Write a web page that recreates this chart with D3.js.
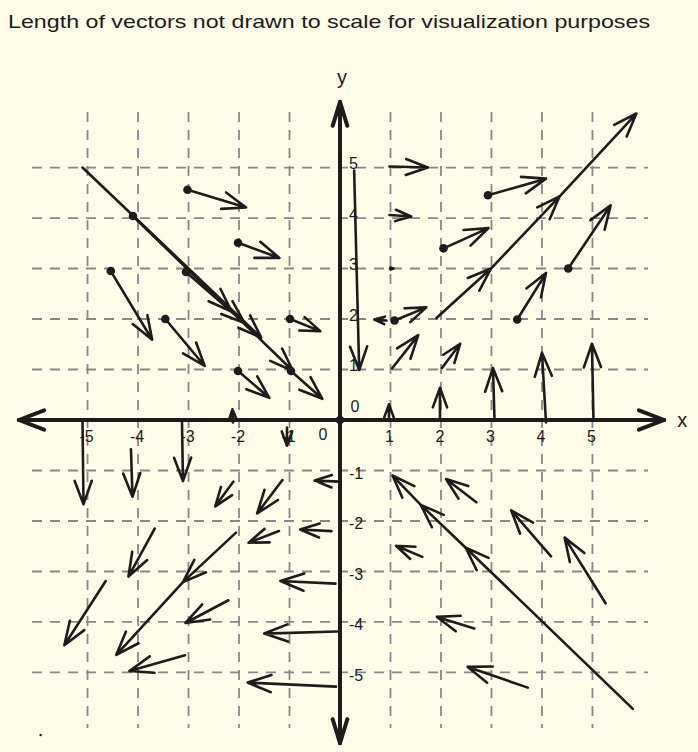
<!DOCTYPE html>
<html>
<head>
<meta charset="utf-8">
<script src="https://cdn.jsdelivr.net/npm/d3@7"></script>
<style>
  html, body { margin: 0; padding: 0; background: #fffde9; }
  svg { display: block; }
  text { font-family: "Liberation Sans", "DejaVu Sans", sans-serif; fill: #1c1c1c; }
</style>
</head>
<body>
<svg id="chart" width="698" height="752"></svg>
<script>
// ---------------- data ----------------
const titleText = "Length of vectors not drawn to scale for visualization purposes";
const xTicks = [-5, -4, -3, -2, -1, 1, 2, 3, 4, 5];
const yTicks = [-5, -4, -3, -2, -1, 1, 2, 3, 4, 5];
const xTickLabels = ["-5", "-4", "-3", "-2", "-1", "1", "2", "3", "4", "5"];
const yTickLabels = ["-5", "-4", "-3", "-2", "-1", "1", "2", "3", "4", "5"];
const zeroLabel = "0";
const xAxisLabel = "x";
const yAxisLabel = "y";
const gridExtent = [-6.1, 6.1];
const xAxisExtent = [-6.36, 6.42];
const yAxisExtent = [-6.4, 6.3];

// vectors: [x0, y0, x1, y1]
const upperLeftVectors = [
  [-5.1, 5.0, -1.56, 1.63],
  [-4.1, 4.04, -0.93, 0.97],
  [-4.1, 4.04, -2.15, 2.15],
  [-3.05, 2.93, -1.89, 1.92],
  [-0.97, 0.97, -0.35, 0.42],
  [-3.02, 4.56, -1.86, 4.21],
  [-2.02, 3.51, -1.2, 3.21],
  [-4.54, 2.95, -3.72, 1.59],
  [-3.46, 2.0, -2.68, 1.07],
  [-2.02, 0.97, -1.4, 0.44],
  [-0.99, 2.0, -0.39, 1.76],
  [0.28, 4.94, 0.38, 0.99]
];
const upperRightVectors = [
  [0.98, 5.02, 1.74, 5.0],
  [0.98, 4.06, 1.41, 4.03],
  [0.99, 3.0, 1.06, 3.0],
  [0.92, 1.97, 0.68, 1.99],
  [1.08, 1.97, 1.71, 2.23],
  [1.03, 1.02, 1.55, 1.68],
  [2.02, 1.03, 2.38, 1.51],
  [1.91, 2.02, 2.99, 3.0],
  [2.99, 3.0, 4.35, 4.43],
  [4.35, 4.43, 5.87, 6.07],
  [2.93, 4.45, 4.08, 4.78],
  [2.05, 3.4, 2.94, 3.8],
  [4.52, 3.0, 5.36, 4.25],
  [3.51, 1.99, 4.08, 2.91]
];
const axisVectors = [
  [0.97, 0.0, 0.97, 0.31],
  [1.98, 0.0, 1.98, 0.64],
  [3.06, 0.0, 3.03, 1.03],
  [4.08, -0.05, 4.0, 1.33],
  [5.02, 0.0, 4.99, 1.51],
  [-2.12, -0.05, -2.13, 0.21],
  [-5.1, 0.0, -5.08, -1.67],
  [-4.14, -0.58, -4.11, -1.52],
  [-3.13, 0.0, -3.11, -1.21],
  [-1.05, -0.15, -1.05, -0.51]
];
const lowerLeftVectors = [
  [0.0, -1.22, -0.5, -1.2],
  [-0.17, -2.2, -0.79, -2.17],
  [-0.09, -3.24, -1.18, -3.19],
  [-0.06, -4.19, -1.5, -4.23],
  [-0.08, -5.28, -1.83, -5.2],
  [-1.14, -1.19, -1.64, -1.85],
  [-2.11, -1.22, -2.47, -1.71],
  [-1.21, -2.2, -1.81, -2.43],
  [-2.06, -2.23, -3.11, -3.21],
  [-3.11, -3.21, -4.43, -4.65],
  [-3.67, -2.15, -4.19, -3.1],
  [-4.64, -3.19, -5.46, -4.46],
  [-2.21, -3.57, -3.06, -4.02],
  [-3.07, -4.66, -4.17, -4.97]
];
const lowerRightVectors = [
  [5.8, -5.72, 2.49, -2.53],
  [2.49, -2.53, 1.6, -1.68],
  [1.6, -1.68, 1.04, -1.1],
  [2.7, -1.63, 2.1, -1.17],
  [1.63, -2.71, 1.11, -2.49],
  [4.18, -2.7, 3.39, -1.79],
  [5.26, -3.63, 4.45, -2.33],
  [2.66, -4.13, 1.92, -3.9],
  [3.72, -5.3, 2.53, -4.89]
];
// tail dots: [x, y]
const tailDots = [
  [-3.02, 4.56], [-2.02, 3.51], [-4.1, 4.04], [-3.05, 2.93], [-4.54, 2.95],
  [-3.46, 2.0], [-0.99, 2.0], [-2.02, 0.97], [-0.97, 0.97],
  [1.08, 1.97], [2.93, 4.45], [2.05, 3.4], [4.52, 3.0], [3.51, 1.99],
  [0, 0]
];
const strayDots = [[-5.93, -6.24]];

// ---------------- drawing ----------------
const W = 698, H = 752;
const svg = d3.select("#chart");
svg.append("rect").attr("width", W).attr("height", H).attr("fill", "#fffde9");

const x = d3.scaleLinear().domain(gridExtent).range([32, 648]);
const y = d3.scaleLinear().domain([gridExtent[1], gridExtent[0]]).range([112, 728]);
const ink = "#1c1c1c";

// title
svg.append("text")
  .attr("x", 8).attr("y", 28)
  .attr("font-size", 19)
  .attr("textLength", 642).attr("lengthAdjust", "spacingAndGlyphs")
  .text(titleText);

// grid
const grid = svg.append("g")
  .attr("stroke", "#888888").attr("stroke-width", 1.8)
  .attr("stroke-dasharray", "10,8").attr("fill", "none");
grid.selectAll("line.v").data(xTicks).join("line")
  .attr("class", "v")
  .attr("x1", d => x(d)).attr("x2", d => x(d))
  .attr("y1", y(gridExtent[1])).attr("y2", y(gridExtent[0]));
grid.selectAll("line.h").data(yTicks).join("line")
  .attr("class", "h")
  .attr("y1", d => y(d)).attr("y2", d => y(d))
  .attr("x1", x(gridExtent[0])).attr("x2", x(gridExtent[1]));

// arrow helper
function arrow(g, x0, y0, x1, y1, width, head, half) {
  const dx = x1 - x0, dy = y1 - y0;
  const len = Math.hypot(dx, dy);
  const ang = Math.atan2(dy, dx);
  const h = head != null ? head : Math.min(25, 8 + 0.4 * len, len * 0.9);
  const a = half != null ? half : 20 * Math.PI / 180;
  const p1 = [x1 - h * Math.cos(ang - a), y1 - h * Math.sin(ang - a)];
  const p2 = [x1 - h * Math.cos(ang + a), y1 - h * Math.sin(ang + a)];
  g.append("path")
    .attr("d", `M${x0},${y0}L${x1},${y1}M${p1[0]},${p1[1]}L${x1},${y1}L${p2[0]},${p2[1]}`)
    .attr("fill", "none").attr("stroke", ink)
    .attr("stroke-width", width)
    .attr("stroke-linecap", "round").attr("stroke-linejoin", "round");
}

// axes
const axes = svg.append("g");
arrow(axes, x(xAxisExtent[1]), y(0), x(xAxisExtent[0]), y(0), 4, 27, 21 * Math.PI / 180);
arrow(axes, x(xAxisExtent[0]), y(0), x(xAxisExtent[1]), y(0), 4, 27, 21 * Math.PI / 180);
arrow(axes, x(0), y(yAxisExtent[0]), x(0), y(yAxisExtent[1]), 4, 25, 17 * Math.PI / 180);
arrow(axes, x(0), y(yAxisExtent[1]), x(0), y(yAxisExtent[0]), 4, 25, 17 * Math.PI / 180);

// axis labels
svg.append("text").attr("x", x(xAxisExtent[1]) + 18).attr("y", y(0))
  .attr("font-size", 20).attr("text-anchor", "middle").attr("dominant-baseline", "central")
  .text(xAxisLabel);
svg.append("text").attr("x", x(0) + 2).attr("y", y(yAxisExtent[1]) - 25)
  .attr("font-size", 20).attr("text-anchor", "middle").attr("dominant-baseline", "central")
  .text(yAxisLabel);

// tick labels
const tl = svg.append("g").attr("font-size", 16);
tl.selectAll("text.xt").data(xTicks).join("text")
  .attr("class", "xt")
  .attr("x", d => x(d) - 1).attr("y", y(0) + 16)
  .attr("text-anchor", "middle").attr("dominant-baseline", "central")
  .text((d, i) => xTickLabels[i]);
tl.selectAll("text.yt").data(yTicks).join("text")
  .attr("class", "yt")
  .attr("x", x(0) + 9).attr("y", d => y(d) + (d > 0 ? -4 : 3))
  .attr("text-anchor", "start").attr("dominant-baseline", "central")
  .text((d, i) => yTickLabels[i]);
tl.append("text").attr("x", x(0) - 17).attr("y", y(0) + 14)
  .attr("text-anchor", "middle").attr("dominant-baseline", "central").text(zeroLabel);
tl.append("text").attr("x", x(0) + 15).attr("y", y(0) - 14)
  .attr("text-anchor", "middle").attr("dominant-baseline", "central").text(zeroLabel);

// vectors
const vg = svg.append("g");
[upperLeftVectors, upperRightVectors, axisVectors, lowerLeftVectors, lowerRightVectors]
  .forEach(set => set.forEach(v => arrow(vg, x(v[0]), y(v[1]), x(v[2]), y(v[3]), 2.6)));

// dots
vg.selectAll("circle.t").data(tailDots).join("circle")
  .attr("class", "t")
  .attr("cx", d => x(d[0])).attr("cy", d => y(d[1])).attr("r", 4.3).attr("fill", ink);
vg.selectAll("circle.s").data(strayDots).join("circle")
  .attr("class", "s")
  .attr("cx", d => x(d[0])).attr("cy", d => y(d[1])).attr("r", 1.2).attr("fill", ink);
</script>
</body>
</html>
